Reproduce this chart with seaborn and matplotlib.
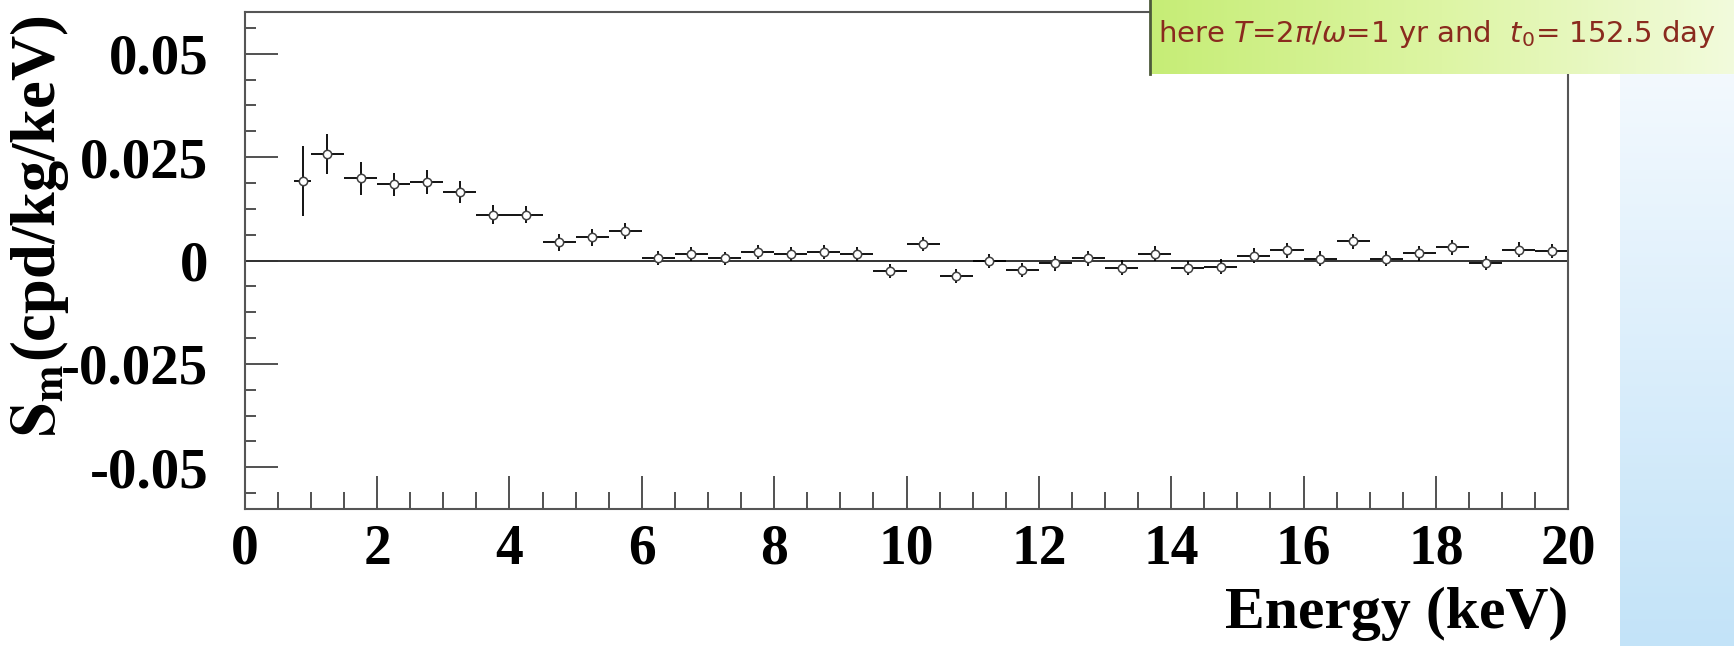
import numpy as np
import pandas as pd
import matplotlib
matplotlib.use("Agg")
import matplotlib.pyplot as plt
import seaborn as sns
from matplotlib.ticker import FixedLocator, MultipleLocator
from matplotlib.colors import LinearSegmentedColormap

# ---------------- data ----------------
energy_center = [0.875, 1.25, 1.75, 2.25, 2.75, 3.25, 3.75, 4.25, 4.75, 5.25,
                 5.75, 6.25, 6.75, 7.25, 7.75, 8.25, 8.75, 9.25, 9.75, 10.25,
                 10.75, 11.25, 11.75, 12.25, 12.75, 13.25, 13.75, 14.25, 14.75, 15.25,
                 15.75, 16.25, 16.75, 17.25, 17.75, 18.25, 18.75, 19.25, 19.75]
energy_halfwidth = [0.125] + [0.25] * 38
sm_value = [0.0192, 0.0257, 0.0199, 0.0184, 0.0189, 0.0166, 0.0111, 0.0111, 0.0044, 0.0056,
            0.0072, 0.0006, 0.0016, 0.0005, 0.0021, 0.0016, 0.0021, 0.0016, -0.0025, 0.0040,
            -0.0037, -0.0001, -0.0023, -0.0007, 0.0005, -0.0017, 0.0016, -0.0018, -0.0015, 0.0012,
            0.0025, 0.0004, 0.0046, 0.0004, 0.0017, 0.0032, -0.0006, 0.0026, 0.0023]
sm_error = [0.0085, 0.0049, 0.0040, 0.0027, 0.0029, 0.0027, 0.0023, 0.0021, 0.0020, 0.0020,
            0.0019, 0.0017, 0.0017, 0.0016, 0.0017, 0.0016, 0.0017, 0.0016, 0.0017, 0.0018,
            0.0017, 0.0017, 0.0018, 0.0018, 0.0018, 0.0018, 0.0018, 0.0018, 0.0018, 0.0018,
            0.0018, 0.0018, 0.0018, 0.0018, 0.0018, 0.0018, 0.0018, 0.0018, 0.0018]

x_ticks = [0, 2, 4, 6, 8, 10, 12, 14, 16, 18, 20]
x_ticklabels = ["0", "2", "4", "6", "8", "10", "12", "14", "16", "18", "20"]
y_ticks = [-0.05, -0.025, 0.0, 0.025, 0.05]
y_ticklabels = ["-0.05", "-0.025", "0", "0.025", "0.05"]

df = pd.DataFrame({"energy": energy_center, "dE": energy_halfwidth,
                   "sm": sm_value, "err": sm_error})

# ---------------- style ----------------
sns.set_theme(style="white")
plt.rcParams["font.family"] = ["Liberation Serif", "DejaVu Serif"]
plt.rcParams["axes.unicode_minus"] = False
plt.rcParams["text.color"] = "black"
plt.rcParams["xtick.color"] = "black"
plt.rcParams["ytick.color"] = "black"

W, H = 1734, 646
fig = plt.figure(figsize=(W / 100, H / 100), dpi=100)
fig.patch.set_facecolor("white")

ax = fig.add_axes([244.7 / W, 1 - 508.7 / H, (1568.3 - 244.7) / W, (508.7 - 12.3) / H])
ax.set_facecolor("white")

ax.axhline(0, color="#333333", lw=1.4, zorder=1)
ax.errorbar(df["energy"], df["sm"], xerr=df["dE"], yerr=df["err"], fmt="none",
            ecolor="black", elinewidth=1.3, capsize=0, zorder=2)
sns.scatterplot(data=df, x="energy", y="sm", ax=ax, marker="o", s=36,
                color="white", edgecolor="#404040", linewidth=1.1, zorder=3, legend=False)

ax.set_xlim(0, 20)
ax.set_ylim(-0.06, 0.06)
ax.set_xlabel("")
ax.set_ylabel("")

ax.xaxis.set_major_locator(FixedLocator(x_ticks))
ax.xaxis.set_minor_locator(MultipleLocator(0.5))
ax.yaxis.set_major_locator(FixedLocator(y_ticks))
ax.yaxis.set_minor_locator(MultipleLocator(0.00625))
ax.set_xticklabels(x_ticklabels, fontsize=40, fontweight="bold", family="Liberation Serif",
                   color="black")
ax.set_yticklabels(y_ticklabels, fontsize=41, fontweight="bold", family="Liberation Serif",
                   color="black")

ax.tick_params(axis="x", which="major", direction="in", length=24, width=1.2,
               color="#333333", labelcolor="black", pad=11, bottom=True, top=False)
ax.tick_params(axis="x", which="minor", direction="in", length=12, width=1.2,
               color="#333333", bottom=True, top=False)
ax.tick_params(axis="y", which="major", direction="in", length=24, width=1.2,
               color="#333333", labelcolor="black", pad=26, left=True, right=False)
ax.tick_params(axis="y", which="minor", direction="in", length=8, width=1.2,
               color="#333333", left=True, right=False)
for sp in ax.spines.values():
    sp.set_visible(True)
    sp.set_color("#555555")
    sp.set_linewidth(1.5)

# axis titles
fig.text(40 / W, 1 - 226 / H, r"$\mathbf{S_m}$(cpd/kg/keV)", rotation=90,
         ha="center", va="center", fontsize=45, fontweight="bold", color="black",
         family="Liberation Serif", math_fontfamily="stix")
fig.text(1568 / W, 1 - 614 / H, "Energy (keV)", ha="right", va="center",
         fontsize=43, fontweight="bold", color="black", family="Liberation Serif")

# ---------------- decorative panels ----------------
# green-yellow annotation box (top right)
bx = fig.add_axes([1150 / W, 1 - 74 / H, (W - 1150) / W, 74 / H])
green = LinearSegmentedColormap.from_list("g", ["#c6ed76", "#ddf5a4", "#f2fbdc"])
bx.imshow(np.linspace(0, 1, 256)[None, :], cmap=green, aspect="auto",
          extent=[0, 1, 0, 1], origin="lower")
bx.set_xlim(0, 1)
bx.set_ylim(0, 1)
bx.set_xticks([])
bx.set_yticks([])
for k, sp in bx.spines.items():
    sp.set_visible(k == "left")
bx.spines["left"].set_color("#4d5a3a")
bx.spines["left"].set_linewidth(2)

fig.text(1158 / W, 1 - 34 / H,
         r"here $\mathit{T}$=$\mathit{2\pi/\omega}$=$\mathit{1}$ yr and  $\mathit{t_0}$= $\mathit{152.5}$ day",
         ha="left", va="center", fontsize=21, color="#8a2a1e",
         family="DejaVu Sans", math_fontfamily="dejavusans")

# light-blue gradient strip (right)
px = fig.add_axes([1620 / W, 0, (W - 1620) / W, (H - 74) / H])
blue = LinearSegmentedColormap.from_list("b", ["#c3e3f8", "#f3f9fe"])
px.imshow(np.linspace(0, 1, 256)[:, None], cmap=blue, aspect="auto",
          extent=[0, 1, 0, 1], origin="lower")
px.set_xticks([])
px.set_yticks([])
for sp in px.spines.values():
    sp.set_visible(False)

fig.savefig("out.png", dpi=100, facecolor="white")
